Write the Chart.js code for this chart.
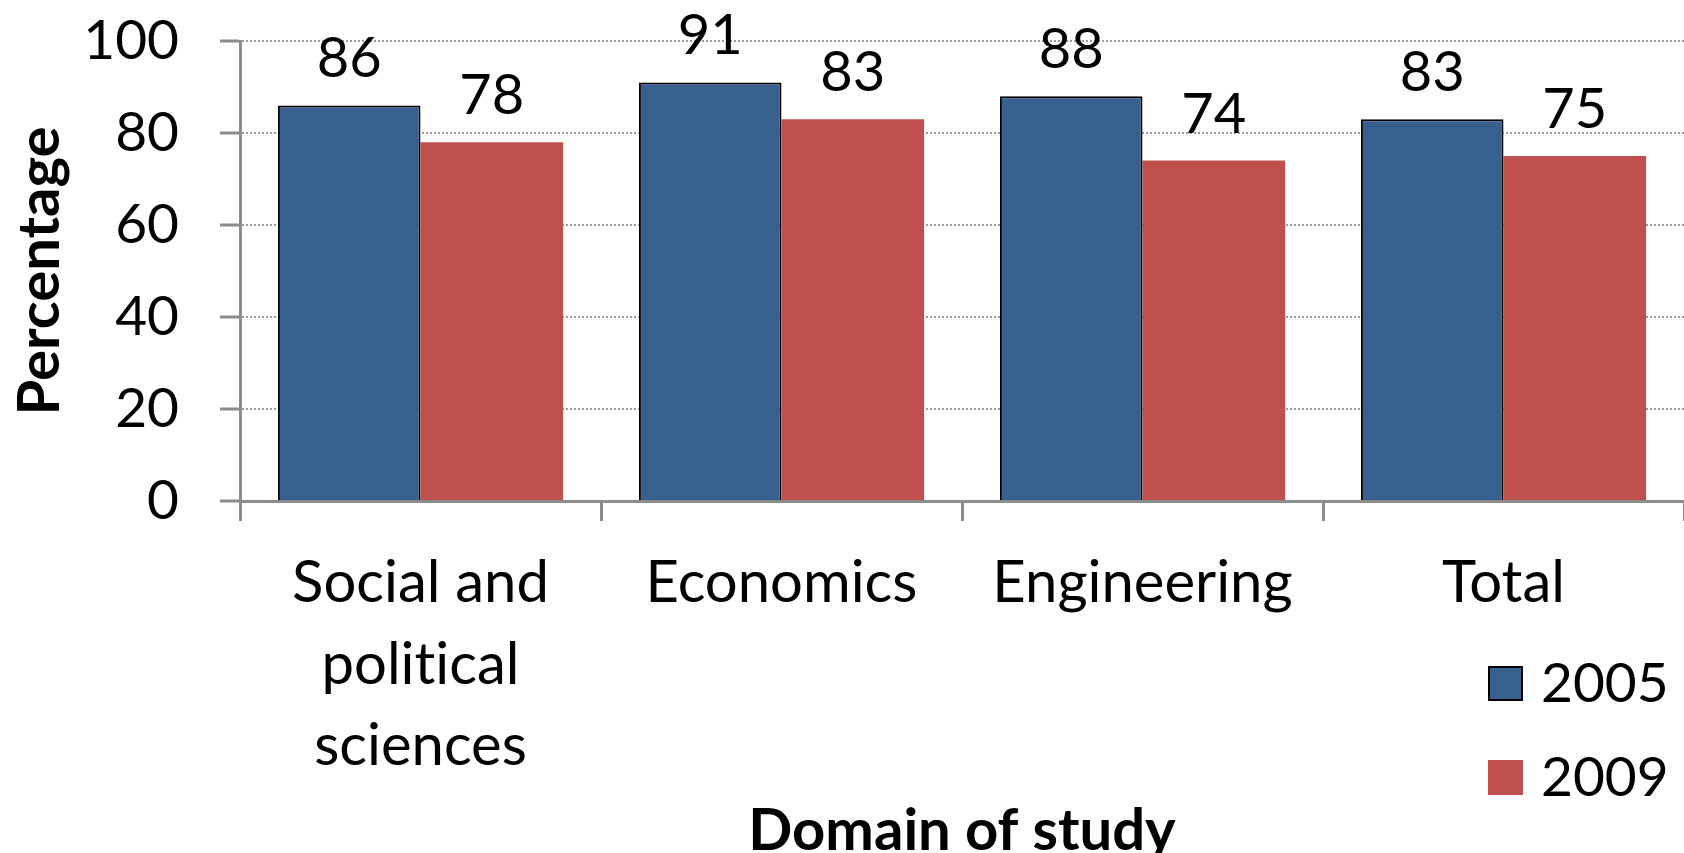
<!DOCTYPE html>
<html>
<head>
<meta charset="utf-8">
<script src="https://cdn.jsdelivr.net/npm/chart.js@4/dist/chart.umd.min.js"></script>
<style>
  html, body { margin: 0; padding: 0; background: #fff; }
  #wrap { width: 1684px; height: 853px; position: relative; }
</style>
</head>
<body>
<div id="wrap"><canvas id="chart"></canvas></div>
<script>
const categories = [['Social and', 'political', 'sciences'], 'Economics', 'Engineering', 'Total'];
const seriesNames = ['2005', '2009'];
const values2005 = [86, 91, 88, 83];
const values2009 = [78, 83, 74, 75];
const yTicks = [0, 20, 40, 60, 80, 100];

const FONT = 'Lato, "Open Sans", sans-serif';
const AXIS_GRAY = '#8c8c8c';

// no ligatures (Lato would turn "ti" into one glyph)
const plainText = {
    id: 'plainText',
    beforeDraw(chart) {
        chart.ctx.textRendering = 'optimizeSpeed';
    }
};

// value labels above each bar
const barLabels = {
    id: 'barLabels',
    afterDatasetsDraw(chart) {
        const ctx = chart.ctx;
        ctx.save();
        ctx.font = '56px ' + FONT;
        ctx.fillStyle = '#000';
        ctx.textAlign = 'center';
        ctx.textBaseline = 'alphabetic';
        chart.data.datasets.forEach((ds, i) => {
            chart.getDatasetMeta(i).data.forEach((bar, j) => {
                ctx.fillText(ds.data[j], bar.x, bar.y - 28);
            });
        });
        ctx.restore();
    }
};

// legend in the lower right corner, stacked
const sideLegend = {
    id: 'sideLegend',
    afterDraw(chart) {
        const ctx = chart.ctx;
        ctx.save();
        ctx.font = '55px ' + FONT;
        ctx.textAlign = 'left';
        ctx.textBaseline = 'alphabetic';
        chart.data.datasets.forEach((ds, i) => {
            const top = 666 + i * 94;
            ctx.fillStyle = ds.backgroundColor;
            ctx.fillRect(1488, top, 35, 35);
            if (ds.borderWidth) {
                ctx.strokeStyle = ds.borderColor;
                ctx.lineWidth = 2;
                ctx.strokeRect(1489, top + 1, 33, 33);
            }
            ctx.fillStyle = '#000';
            ctx.fillText(ds.label, 1541, top + 36);
        });
        ctx.restore();
    }
};

new Chart(document.getElementById('chart'), {
    type: 'bar',
    data: {
        labels: categories,
        datasets: [{
            label: seriesNames[0],
            data: values2005,
            backgroundColor: '#37608f',
            borderColor: '#000',
            borderWidth: 2
        }, {
            label: seriesNames[1],
            data: values2009,
            backgroundColor: '#c0504d',
            borderWidth: 0
        }]
    },
    options: {
        responsive: true,
        maintainAspectRatio: false,
        animation: false,
        categoryPercentage: 0.79,
        barPercentage: 1.0,
        layout: { padding: { top: 41, right: -5, bottom: 0, left: 0 } },
        plugins: {
            legend: { display: false },
            tooltip: { enabled: false }
        },
        scales: {
            x: {
                afterFit(scale) { scale.height = 352; },
                grid: {
                    offset: true,
                    drawOnChartArea: false,
                    drawTicks: true,
                    tickLength: 20,
                    tickColor: AXIS_GRAY,
                    tickWidth: 3
                },
                border: { color: AXIS_GRAY, width: 3 },
                ticks: {
                    color: '#000',
                    font: { family: FONT, size: 58, lineHeight: 1.4 },
                    padding: 22,
                    maxRotation: 0,
                    autoSkip: false
                },
                title: {
                    display: true,
                    text: 'Domain of study',
                    color: '#000',
                    font: { family: FONT, size: 58, weight: 'bold', lineHeight: 1 },
                    padding: { top: 0, bottom: -7 }
                }
            },
            y: {
                min: 0,
                max: 100,
                afterFit(scale) {
                    scale.width = 240;
                    scale.paddingTop = 0;
                    scale.paddingBottom = 0;
                },
                afterBuildTicks(scale) { scale.ticks = yTicks.map(v => ({ value: v })); },
                grid: {
                    color: c => c.tick && c.tick.value === 0 ? 'rgba(0,0,0,0)' : '#9a9a9a',
                    lineWidth: 2,
                    tickBorderDash: [],
                    tickColor: AXIS_GRAY,
                    tickWidth: 3,
                    tickLength: 20
                },
                border: { color: AXIS_GRAY, width: 3, dash: [2, 2] },
                ticks: {
                    color: '#000',
                    font: { family: FONT, size: 55 },
                    padding: 41
                },
                title: {
                    display: true,
                    text: 'Percentage',
                    color: '#000',
                    font: { family: FONT, size: 58, weight: 'bold', lineHeight: 1 },
                    padding: { top: 11, bottom: 0 }
                }
            }
        }
    },
    plugins: [plainText, barLabels, sideLegend]
});
</script>
</body>
</html>
